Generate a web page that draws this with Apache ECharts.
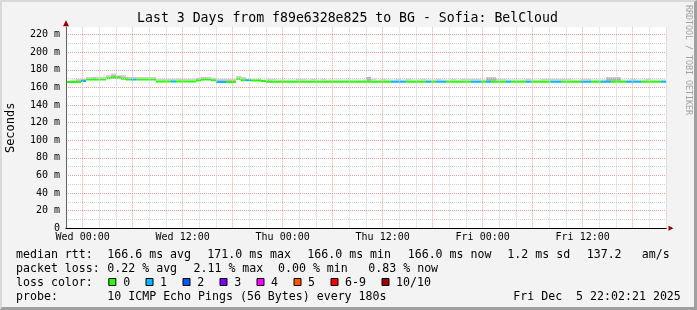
<!DOCTYPE html>
<html><head><meta charset="utf-8">
<script src="https://cdn.jsdelivr.net/npm/echarts@6/dist/echarts.min.js"></script>
<style>
html,body{margin:0;padding:0;background:#f3f3f3;}
#wrap{position:relative;width:697px;height:310px;}
#c{width:697px;height:310px;}
#frame{position:absolute;left:0;top:0;width:697px;height:310px;box-sizing:border-box;border-left:2px solid #d8d8d8;border-top:2px solid #d8d8d8;border-right:3px solid #a0a0a0;border-bottom:3px solid #a0a0a0;pointer-events:none;}
</style>
</head><body><div id="wrap"><div id="c"></div><div id="frame"></div></div>
<script>
// ---------- data ----------
const titleText = 'Last 3 Days from f89e6328e825 to BG - Sofia: BelCloud';
const xLabelHours = [0, 12, 24, 36, 48, 60];
const xLabelTexts = ['Wed 00:00', 'Wed 12:00', 'Thu 00:00', 'Thu 12:00', 'Fri 00:00', 'Fri 12:00'];
const yLabelValues = [0, 20, 40, 60, 80, 100, 120, 140, 160, 180, 200, 220];
const yLabelTexts = ['0', '20 m', '40 m', '60 m', '80 m', '100 m', '120 m', '140 m', '160 m', '180 m', '200 m', '220 m'];
const binStartHour = -2;   // hours relative to Wed 00:00
const binHours = 0.6;
// median rtt (ms) per 36-minute bin
const median = [
 166.3,166.3,166.3,167.4,169.1,169.1,169.1,169.1,170.4,171.1,
 171.1,170.0,169.1,169.1,169.1,169.1,169.1,169.1,166.8,166.8,
 166.8,166.8,166.8,166.8,166.8,166.8,168.0,169.1,169.1,168.2,
 166.3,166.3,166.3,166.3,170.0,168.2,168.2,168.0,168.0,167.4,
 166.5,166.5,166.5,166.5,166.5,166.5,166.5,166.5,166.5,166.5,
 166.5,166.5,166.5,166.5,166.5,166.5,166.5,166.5,166.5,166.5,
 166.5,166.5,166.5,166.5,166.5,166.5,166.5,166.5,166.5,166.5,
 166.5,166.5,166.5,166.5,166.5,166.5,166.5,166.5,166.5,166.5,
 166.5,166.5,166.5,166.5,166.5,166.5,166.5,166.5,166.5,166.5,
 166.5,166.5,166.5,166.5,166.5,166.5,166.5,166.5,166.5,166.5,
 166.5,166.5,166.5,166.5,166.5,166.5,166.5,166.5,166.5,166.5,
 166.5,166.5,166.5,166.5,166.5,166.5,166.5,166.5,166.5,166.5
];
// lost pings (of 10) per bin
const loss = [
 0,0,0,1,0,0,0,0,0,0, 0,0,0,1,0,0,0,0,0,0, 0,1,0,0,0,0,0,0,0,0,
 1,1,0,0,0,0,1,0,0,0, 0,0,0,0,0,0,0,0,0,0, 0,0,0,0,0,0,0,0,0,0,
 0,0,0,0,0,1,1,1,0,0, 0,0,1,0,1,1,0,0,0,0, 0,1,1,0,1,0,0,0,1,0,
 0,0,1,0,0,0,0,1,1,0, 0,0,0,1,1,0,0,1,1,0, 0,0,1,1,1,0,0,0,0,1
];
// top of the darker smoke band (ms)
const smokeMid = [
 167,167,168,169,170,171,170,170,172,174, 173,172,171,170,170,170,170,170,168,168,
 168,168,168,168,168,168,170,171,170,169, 168,168,168,168,171,170,169,169,168,168,
 168,167.5,167.5,167.5,167.5,167.5,167.5,167.5,167.5,167.5, 167.5,167.5,167.5,167.5,167.5,167.5,167.5,167.5,167.5,167.5,
 172,167.5,167.5,167.5,167.5,167.5,167.5,167.5,167.5,167.5, 167.5,167.5,167.5,167.5,167.5,167.5,167.5,167.5,167.5,167.5,
 167.5,167.5,167.5,167.5,171,171,167.5,167.5,167.5,167.5, 167.5,167.5,167.5,167.5,167.5,167.5,167.5,167.5,167.5,167.5,
 167.5,167.5,167.5,167.5,167.5,167.5,167.5,167.5,171,171, 171,167.5,167.5,167.5,167.5,167.5,167.5,167.5,167.5,167.5
];
// top of the lighter smoke band (ms)
const smokeTop = [
 168,169,170,170,172,172,172,172,174,176, 174,174,172,172,172,172,172,172,170,170,
 170,170,170,170,170,170,171,172,172,171, 170,170,170,170,173,172,170,170,170,169,
 170,170,169,169,169,169,170,170,169,170, 169,170,169,169,169,169,169,169,169,169,
 172,170,169,170,169,169,170,169,170,169, 169,170,169,169,170,169,169,170,169,170,
 170,170,170,169,172,172,170,170,169,169, 169,169,170,169,169,170,170,170,170,170,
 170,169,169,170,170,169,169,169,172,172, 172,169,169,170,169,169,170,169,169,169
];
const lossColors = ['#26ff00', '#00b8ff', '#0059ff', '#7e00ff', '#ff00ff', '#ff5500', '#ff0000', '#a10000'];
const lossLabels = ['0', '1', '2', '3', '4', '5', '6-9', '10/10'];
const statRow1 = ['median rtt:', '166.6 ms avg', '171.0 ms max', '166.0 ms min', '166.0 ms now', '1.2 ms sd', '137.2', 'am/s'];
const statRow2 = ['packet loss:', '0.22 % avg', '2.11 % max', '0.00 % min', '0.83 % now'];
const probeText = ['probe:', '10 ICMP Echo Pings (56 Bytes) every 180s', 'Fri Dec  5 22:02:21 2025'];

// ---------- build ----------
const FONT = '"DejaVu Sans Mono", "Liberation Mono", monospace';
const lineHalf = 1.15;
function lossColor(n) {
  if (n >= 10) return lossColors[7];
  if (n >= 6) return lossColors[6];
  return lossColors[n];
}
const seriesData = median.map((m, i) => [binStartHour + binHours * (i + 0.5), m, loss[i], smokeMid[i], smokeTop[i]]);

function renderBin(params, api) {
  const xc = api.value(0), m = api.value(1), n = api.value(2), sm = api.value(3), st = api.value(4);
  const xl = api.coord([xc - binHours / 2, 0])[0];
  const xr = api.coord([xc + binHours / 2, 0])[0];
  const yLo = api.coord([xc, m - lineHalf])[1];
  const yHi = api.coord([xc, m + lineHalf])[1];
  const ySm = api.coord([xc, Math.max(sm, m)])[1];
  const ySt = api.coord([xc, Math.max(st, sm, m)])[1];
  const w = xr - xl;
  return {
    type: 'group',
    children: [
      { type: 'rect', shape: { x: xl, y: ySt, width: w, height: Math.max(0, yHi - ySt) }, style: { fill: '#d0d0d0' } },
      { type: 'rect', shape: { x: xl, y: ySm, width: w, height: Math.max(0, yHi - ySm) }, style: { fill: '#b0b0b0' } },
      { type: 'rect', shape: { x: xl, y: yHi, width: w, height: yLo - yHi }, style: { fill: lossColor(n) } }
    ]
  };
}

const textEls = [];
const LF = 11.6;
const fL = LF + 'px ' + FONT;
const colX = [16, 107.3, 207.3, 307.3, 407.7, 507.3, 586.7, 641.7];
const colX2 = [16, 107.3, 193.5, 278, 368.3];
const rowY = [254.5, 268.5, 282.5, 296.5];
function addText(t, x, y, extra) {
  textEls.push(Object.assign({ type: 'text', x, y, silent: true, style: Object.assign({ text: t, font: fL, fill: '#000', verticalAlign: 'middle' }, extra || {}) }));
}
statRow1.forEach((t, i) => addText(t, colX[i], rowY[0]));
statRow2.forEach((t, i) => addText(t, colX2[i], rowY[1]));
addText('loss color:', 16, rowY[2]);
const sqX = [108.3, 145.5, 182.5, 219.5, 256.5, 293.5, 330.5, 381.5];
const lblX = [123.3, 160, 197.3, 234.3, 271, 308, 345, 396];
lossLabels.forEach((t, i) => {
  textEls.push({ type: 'rect', silent: true, shape: { x: sqX[i] + 0.5, y: 278.5, width: 7, height: 7 }, style: { fill: lossColors[i], stroke: '#000', lineWidth: 1 } });
  addText(t, lblX[i], rowY[2]);
});
addText(probeText[0], 16, rowY[3]);
addText(probeText[1], 107.3, rowY[3]);
addText(probeText[2], 513.3, rowY[3]);
addText(titleText, 347.5, 19, { font: '13.2px ' + FONT, align: 'center' });
textEls.push({ type: 'text', x: 688.5, y: 60, rotation: -Math.PI / 2, silent: true, style: { text: 'RRDTOOL / TOBI OETIKER', font: '8.3px ' + FONT, fill: '#a0a0a0', align: 'center', verticalAlign: 'middle' } });

const gridPos = { left: 66, right: 31, top: 27.3, bottom: 81.7, containLabel: false, outerBoundsMode: 'none' };
const chart = echarts.init(document.getElementById('c'), null, { renderer: 'canvas' });
chart.setOption({
  animation: false,
  backgroundColor: '#f3f3f3',
  grid: [
    Object.assign({ show: true, backgroundColor: '#ffffff', borderWidth: 0 }, gridPos),
    Object.assign({ show: false }, gridPos)
  ],
  xAxis: [{
    type: 'value', gridIndex: 0, min: -2, max: 70, interval: 2, z: 5,
    axisLine: { show: true, onZero: false, lineStyle: { color: '#000', width: 1 } },
    axisTick: { show: false },
    axisLabel: {
      margin: 4, fontFamily: FONT, fontSize: 10, color: '#000',
      formatter: v => { const k = xLabelHours.indexOf(v); return k >= 0 ? xLabelTexts[k] : ''; }
    },
    splitLine: { show: true, lineStyle: { color: ['#d0d0d0', '#ffa0a0', '#d0d0d0'], type: [1, 1], width: 1 } }
  }, {
    type: 'value', gridIndex: 1, min: -2, max: 70, z: 1,
    axisLine: { show: true, onZero: false, symbol: ['none', 'triangle'], symbolSize: [5, 5], symbolOffset: [0, 5], lineStyle: { color: '#9a0000', width: 1 } },
    axisTick: { show: false }, axisLabel: { show: false }, splitLine: { show: false }
  }],
  yAxis: [{
    type: 'value', gridIndex: 0, min: 0, max: 228.4, interval: 10, z: 5,
    name: 'Seconds', nameLocation: 'middle', nameGap: 49.5, nameRotate: 90,
    nameTextStyle: { fontFamily: FONT, fontSize: 12, color: '#000' },
    axisLine: { show: true, onZero: false, lineStyle: { color: '#606060', width: 1 } },
    axisTick: { show: false },
    axisLabel: {
      margin: 6, fontFamily: FONT, fontSize: 10, color: '#000',
      formatter: v => { const k = yLabelValues.indexOf(v); return k >= 0 ? yLabelTexts[k] : ''; }
    },
    splitLine: { show: true, showMaxLine: false, lineStyle: { color: ['#ffa0a0', '#d0d0d0'], type: [1, 1], width: 1 } }
  }, {
    type: 'value', gridIndex: 1, min: 0, max: 228.4, z: 1,
    axisLine: { show: true, onZero: false, symbol: ['none', 'triangle'], symbolSize: [6, 6], symbolOffset: [0, 4], lineStyle: { color: '#9a0000', width: 1 } },
    axisTick: { show: false }, axisLabel: { show: false }, splitLine: { show: false }
  }],
  series: [{
    type: 'custom', name: 'rtt', xAxisIndex: 0, yAxisIndex: 0, silent: true,
    renderItem: renderBin, data: seriesData,
    encode: { x: 0, y: [1, 4] }, clip: true
  }],
  graphic: textEls
});
</script>
</body></html>
